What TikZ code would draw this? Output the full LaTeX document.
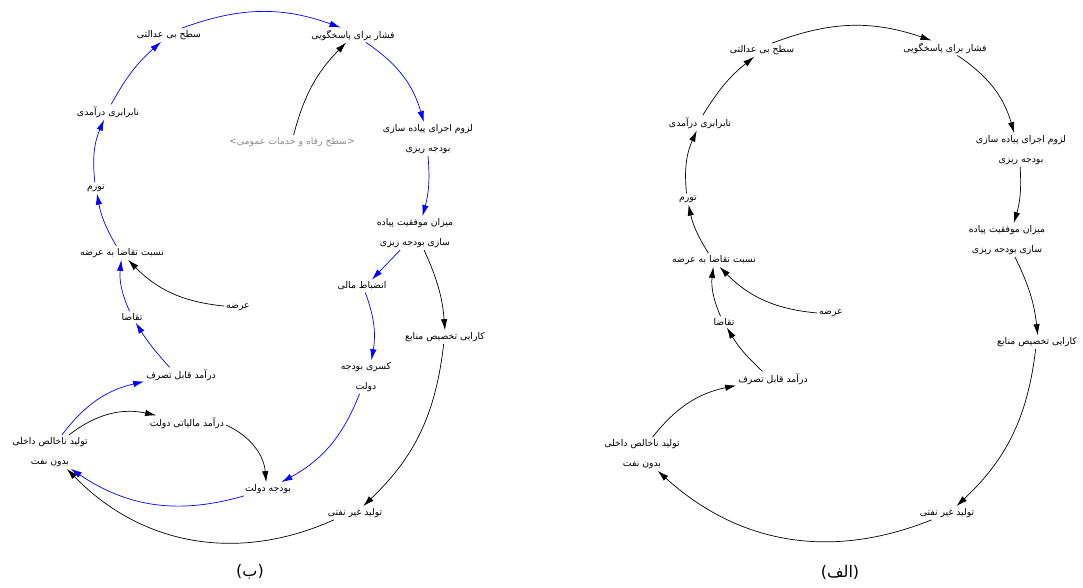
\documentclass[tikz,border=0pt]{standalone}
\usepackage{fontspec}
\usetikzlibrary{arrows.meta}
\newfontfamily\fafont[Script=Arabic]{DejaVu Sans}
\newfontfamily\lafont{DejaVu Sans}
\TeXXeTstate=1
\newcommand{\fa}[1]{{\fafont\beginR #1\endR}}
\newcommand{\la}[1]{{\lafont #1}}

\begin{document}
\begin{tikzpicture}[x=1pt,y=1pt,
    every node/.style={draw=none,align=center,inner sep=2pt,
      font=\fafont\fontsize{9.3}{20}\selectfont},
    conn/.style={-{Latex[length=11pt,width=6.5pt]},line width=0.7pt},
    bconn/.style={conn,blue}]
  \useasboundingbox (0,0) rectangle (1083,587);

  % (b) - loop with fiscal discipline
  \node [name=b1] at (169,552) {\fa{سطح بی عدالتی}};
  \node [name=b2] at (353,552) {\fa{فشار برای پاسخگویی}};
  \node [name=b3] at (428,448) {\fa{لزوم اجرای پیاده سازی}\\\fa{بودجه ریزی}};
  \node [name=b4,text=black!45] at (292,445) {\la{<}\fa{سطح رفاه و خدمات عمومی}\la{>}};
  \node [name=b5] at (108,475) {\fa{نابرابری درآمدی}};
  \node [name=b6] at (96,399) {\fa{تورم}};
  \node [name=b7] at (122,334) {\fa{نسبت تقاضا به عرضه}};
  \node [name=b8] at (238,280) {\fa{عرضه}};
  \node [name=b9] at (132,270) {\fa{تقاضا}};
  \node [name=b10] at (181,212) {\fa{درآمد قابل تصرف}};
  \node [name=b11] at (187,164) {\fa{درآمد مالیاتی دولت}};
  \node [name=b12] at (50,135) {\fa{تولید ناخالص داخلی}\\\fa{بدون نفت}};
  \node [name=b13] at (268,98) {\fa{بودجه دولت}};
  \node [name=b14] at (355,74) {\fa{تولید غیر نفتی}};
  \node [name=b15] at (366,210) {\fa{کسری بودجه}\\\fa{دولت}};
  \node [name=b16] at (445,250) {\fa{کارایی تخصیص منابع}};
  \node [name=b17] at (362,301) {\fa{انضباط مالی}};
  \node [name=b18] at (415,354) {\fa{میزان موفقیت پیاده}\\\fa{سازی بودجه ریزی}};
  \node [name=b19,font=\fafont\fontsize{16}{18}\selectfont] at (250,15) {\la{(}\fa{ب}\la{)}};

  \draw [bconn] (b1.28) to[bend left=20] (b2.149);
  \draw [bconn] (b2.-30) to[bend left=20] (b3.104);
  \draw [bconn] (b3.-90) to[bend left=10] (b18.66);
  \draw [bconn] (b18.229) -- (b17.33);
  \draw [bconn] (b17.-63) to[bend left=15] (b15.72);
  \draw [bconn] (b15.-111) to[bend left=20] (b13.27);
  \draw [bconn] (b13.196) to[bend left=25] (b12.-39);
  \draw [bconn] (b12.55) to[bend left=20] (b10.190);
  \draw [conn] (b12.42) to[bend left=25] (b11.166);
  \draw [conn] (b11.-3) to[bend left=30] (b13.105);
  \draw [conn] (b18.-62) to[bend left=10] (b16.90);
  \draw [conn] (b16.-101) to[bend left=20] (b14.40);
  \draw [conn] (b14.198) to[bend left=35] (b12.-45);
  \draw [bconn] (b10.146) to[bend left=5] (b9.-57);
  \draw [bconn] (b9.113) to[bend left=15] (b7.-96);
  \draw [conn] (b8.176) to[bend left=20] (b7.-48);
  \draw [bconn] (b7.129) to[bend left=10] (b6.-80);
  \draw [bconn] (b6.101) to[bend left=15] (b5.-117);
  \draw [bconn] (b5.67) to[bend left=10] (b1.221);
  \draw [conn] (b4.77) to[bend left=15] (b2.228);

  % (a) - base loop
  \node [name=a1] at (762,537) {\fa{سطح بی عدالتی}};
  \node [name=a2] at (945,539) {\fa{فشار برای پاسخگویی}};
  \node [name=a3] at (1021,437) {\fa{لزوم اجرای پیاده سازی}\\\fa{بودجه ریزی}};
  \node [name=a4] at (700,464) {\fa{نابرابری درآمدی}};
  \node [name=a5] at (688,388) {\fa{تورم}};
  \node [name=a6] at (714,327) {\fa{نسبت تقاضا به عرضه}};
  \node [name=a7] at (1007,347) {\fa{میزان موفقیت پیاده}\\\fa{سازی بودجه ریزی}};
  \node [name=a8] at (831,274) {\fa{عرضه}};
  \node [name=a9] at (724,265) {\fa{تقاضا}};
  \node [name=a10] at (1037,245) {\fa{کارایی تخصیص منابع}};
  \node [name=a11] at (773,208) {\fa{درآمد قابل تصرف}};
  \node [name=a12] at (642,133) {\fa{تولید ناخالص داخلی}\\\fa{بدون نفت}};
  \node [name=a13] at (947,74) {\fa{تولید غیر نفتی}};
  \node [name=a14,font=\fafont\fontsize{16}{18}\selectfont] at (840,15) {\la{(}\fa{الف}\la{)}};

  \draw [conn] (a1.34) to[bend left=20] (a2.151);
  \draw [conn] (a2.-31) to[bend left=20] (a3.112);
  \draw [conn] (a3.-93) to[bend left=10] (a7.68);
  \draw [conn] (a7.-65) to[bend left=10] (a10.84);
  \draw [conn] (a10.-101) to[bend left=20] (a13.36);
  \draw [conn] (a13.204) to[bend left=32] (a12.-47);
  \draw [conn] (a12.58) to[bend left=20] (a11.190);
  \draw [conn] (a11.144) to[bend left=8] (a9.-63);
  \draw [conn] (a9.121) to[bend left=15] (a6.-96);
  \draw [conn] (a8.180) to[bend left=20] (a6.-51);
  \draw [conn] (a6.129) to[bend left=10] (a5.-85);
  \draw [conn] (a5.105) to[bend left=15] (a4.-113);
  \draw [conn] (a4.70) to[bend left=10] (a1.221);
\end{tikzpicture}
\end{document}
